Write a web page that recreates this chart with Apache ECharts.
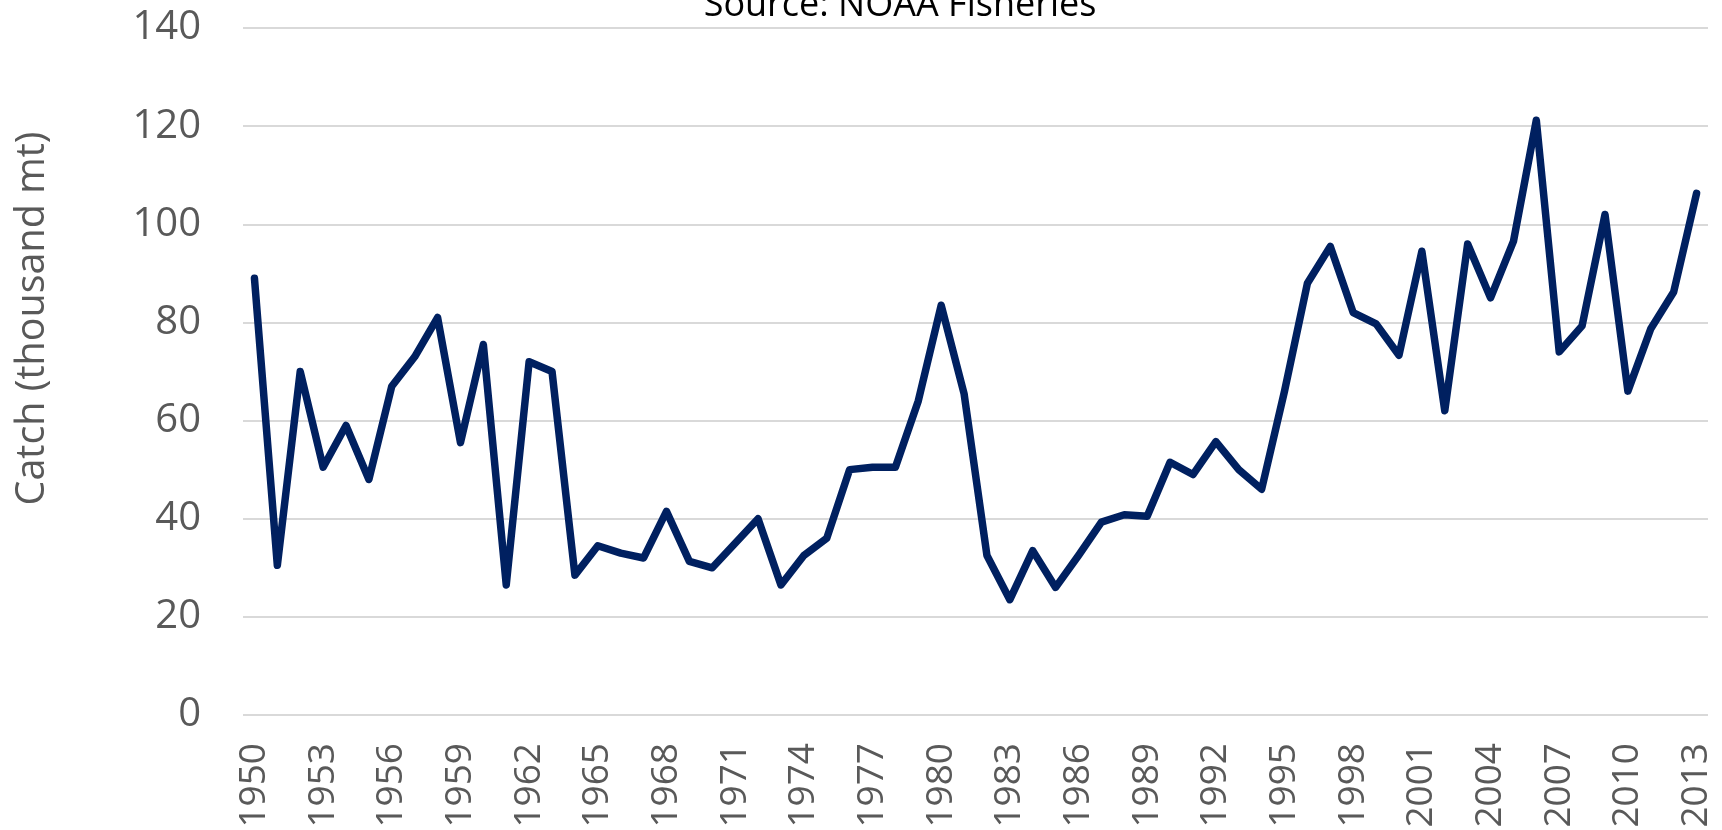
<!DOCTYPE html>
<html>
<head>
<meta charset="utf-8">
<title>Catch - Source: NOAA Fisheries</title>
<script src="https://cdn.jsdelivr.net/npm/echarts@6/dist/echarts.min.js"></script>
<style>
  html, body { margin: 0; padding: 0; background: #fff; }
  #chartContent { width: 1722px; height: 830px; }
</style>
</head>
<body>
<div id="chartContent"></div>
<script>
// years on the x axis
var years = [];
for (var y = 1950; y <= 2013; y++) { years.push(String(y)); }

// catch, thousand mt
var catchValues = [
  89, 30.5, 70, 50.5, 59, 48, 67, 73, 81, 55.5,      // 1950-1959
  75.5, 26.5, 72, 70, 28.5, 34.5, 33, 32, 41.5, 31.3, // 1960-1969
  30, 35, 40, 26.5, 32.5, 36, 50, 50.5, 50.5, 64,     // 1970-1979
  83.5, 65.5, 32.5, 23.5, 33.5, 26, 32.5, 39.3, 40.8, 40.5, // 1980-1989
  51.5, 49, 55.7, 50, 46, 66, 88, 95.5, 82, 79.7,     // 1990-1999
  73.3, 94.5, 62, 96, 85, 96.5, 121.2, 74, 79.3, 102, // 2000-2009
  66, 78.7, 86.2, 106.3                               // 2010-2013
];

// y axis ticks
var yTicks = [0, 20, 40, 60, 80, 100, 120, 140];

var textFont = '"Open Sans", "Noto Sans", sans-serif';

var myChart = echarts.init(document.getElementById('chartContent'));

var optionContent = {
  animation: false,
  title: {
    text: 'Source: NOAA Fisheries',
    left: 895,
    textAlign: 'center',
    top: -17,
    textStyle: { fontFamily: textFont, fontSize: 36, fontWeight: 'normal', color: '#000' }
  },
  grid: {
    left: 243,
    right: 14,
    top: 28,
    bottom: 115,
    containLabel: false,
    outerBoundsMode: 'none'
  },
  xAxis: {
    type: 'category',
    boundaryGap: true,
    data: years,
    axisLine: { show: false },
    axisTick: { show: false },
    axisLabel: {
      interval: 2,
      rotate: 90,
      margin: 28,
      fontFamily: textFont,
      fontSize: 37,
      color: '#595959'
    }
  },
  yAxis: {
    type: 'value',
    min: yTicks[0],
    max: yTicks[yTicks.length - 1],
    interval: yTicks[1] - yTicks[0],
    name: 'Catch (thousand mt)',
    nameLocation: 'middle',
    nameGap: 190,
    nameTextStyle: {
      fontFamily: textFont,
      fontSize: 39.5,
      color: '#595959',
      padding: [0, 0, 0, 106]
    },
    axisLine: { show: false },
    axisTick: { show: false },
    axisLabel: {
      margin: 42,
      fontFamily: textFont,
      fontSize: 40,
      color: '#595959'
    },
    splitLine: { lineStyle: { color: '#d9d9d9', width: 2 } }
  },
  series: [
    {
      name: 'Catch',
      type: 'line',
      data: catchValues,
      symbol: 'none',
      lineStyle: { color: '#002060', width: 7.5, cap: 'round', join: 'round' }
    }
  ]
};

myChart.setOption(optionContent);
</script>
</body>
</html>
